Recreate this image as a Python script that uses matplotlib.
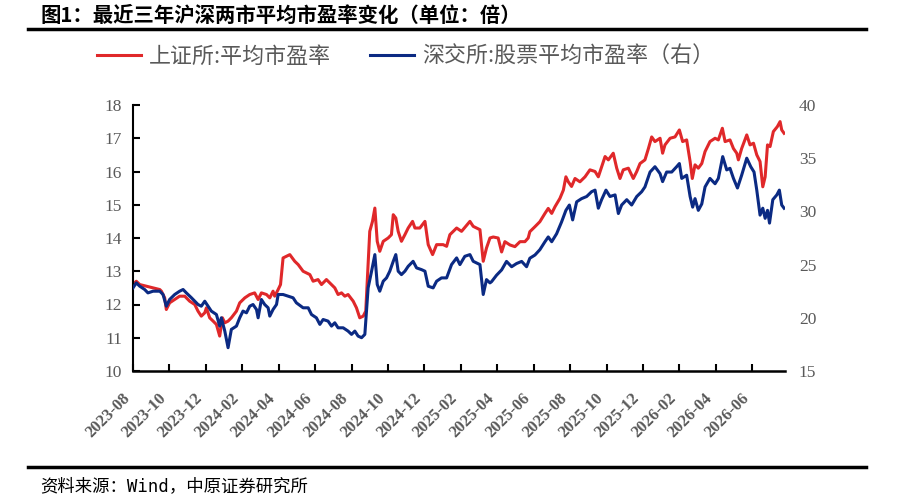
import matplotlib
matplotlib.use("Agg")
import matplotlib.pyplot as plt
from matplotlib.lines import Line2D
import matplotlib.transforms as mtransforms

plt.rcParams['font.family'] = ['Noto Sans CJK SC', 'DejaVu Sans']

# ---- data (x = months since 2023-08) ----
tick_labels = ['2023-08', '2023-10', '2023-12', '2024-02', '2024-04', '2024-06',
               '2024-08', '2024-10', '2024-12', '2025-02', '2025-04', '2025-06',
               '2025-08', '2025-10', '2025-12', '2026-02', '2026-04', '2026-06']
tick_pos = [0, 2, 4, 6, 8, 10, 12, 14, 16, 18, 20, 22, 24, 26, 28, 30, 32, 34]

sh_month = [0.00, 0.18, 0.37, 0.73, 1.10, 1.47, 1.56, 1.74, 1.83, 2.01, 2.29, 2.56,
            2.84, 3.11, 3.39, 3.57, 3.75, 3.94, 4.03, 4.21, 4.40, 4.58, 4.76, 4.91,
            5.04, 5.22, 5.40, 5.68, 5.86, 6.14, 6.41, 6.68, 6.87, 7.05, 7.33, 7.51,
            7.69, 7.78, 7.97, 8.10, 8.24, 8.61, 8.88, 9.07, 9.34, 9.71, 9.89, 10.16,
            10.35, 10.62, 10.90, 11.08, 11.26, 11.45, 11.63, 11.81, 12.09, 12.27, 12.45,
            12.64, 12.78, 13.00, 13.15, 13.28, 13.41, 13.55, 13.74, 14.01, 14.19, 14.29,
            14.43, 14.56, 14.74, 14.93, 15.11, 15.35, 15.48, 15.75, 16.03, 16.21, 16.45,
            16.67, 17.03, 17.22, 17.40, 17.77, 18.04, 18.50, 18.68, 19.05, 19.23, 19.41,
            19.60, 19.78, 20.05, 20.24, 20.42, 20.70, 20.97, 21.25, 21.52, 21.70, 21.79,
            22.07, 22.34, 22.62, 22.80, 22.99, 23.17, 23.44, 23.63, 23.77, 23.90, 24.08,
            24.27, 24.54, 24.82, 25.09, 25.37, 25.55, 25.73, 25.92, 26.10, 26.37, 26.56,
            26.74, 26.92, 27.20, 27.47, 27.66, 27.84, 28.11, 28.30, 28.48, 28.66, 28.94,
            29.08, 29.21, 29.49, 29.76, 30.00, 30.18, 30.40, 30.59, 30.71, 30.86, 31.04,
            31.23, 31.41, 31.68, 31.96, 32.14, 32.36, 32.51, 32.78, 32.97, 33.15, 33.24,
            33.42, 33.70, 33.88, 34.07, 34.25, 34.43, 34.58, 34.71, 34.84, 34.98, 35.16,
            35.38, 35.53, 35.62, 35.75]
sh_pe = [12.6, 12.7, 12.6, 12.55, 12.5, 12.45, 12.4, 12.2, 11.85, 12.05, 12.15, 12.25,
         12.25, 12.1, 12.0, 11.8, 11.65, 11.75, 11.9, 11.6, 11.5, 11.4, 11.05, 11.6,
         11.45, 11.5, 11.6, 11.8, 12.05, 12.2, 12.3, 12.35, 12.15, 12.35, 12.3, 12.2,
         12.4, 12.25, 12.45, 12.6, 13.4, 13.5, 13.3, 13.2, 13.0, 12.9, 12.7, 12.75,
         12.6, 12.75, 12.6, 12.5, 12.3, 12.35, 12.25, 12.3, 12.1, 11.9, 11.6,
         11.65, 11.8, 14.2, 14.5, 14.9, 13.9, 13.6, 13.9, 14.0, 14.1, 14.7,
         14.6, 14.2, 13.9, 14.1, 14.3, 14.5, 14.3, 14.3, 14.5, 13.8, 13.5,
         13.8, 13.8, 13.75, 14.1, 14.3, 14.2, 14.5, 14.35, 14.25, 13.3, 13.7,
         14.0, 14.03, 14.0, 13.58, 13.89, 13.79, 13.74, 13.89, 13.89, 14.0, 14.19,
         14.34, 14.49, 14.74, 14.89, 14.74, 14.94, 15.19, 15.44, 15.84, 15.69, 15.55,
         15.79, 15.69, 15.84, 16.05, 16.0, 15.84, 16.14, 16.45, 16.35, 16.55, 16.1,
         15.79, 16.05, 16.1, 15.79, 16.0, 16.24, 16.35, 16.69, 17.04, 16.9, 17.0,
         16.55, 16.8, 17.0, 17.04, 17.25, 16.9, 16.95, 16.3, 15.79, 16.2, 16.1,
         16.24, 16.6, 16.9, 17.0, 16.95, 17.3, 16.9, 16.95, 16.69, 16.55, 16.35,
         16.69, 17.1, 16.8, 16.85, 16.5, 16.3, 15.54, 15.84, 16.8, 16.75, 17.2,
         17.35, 17.5, 17.25, 17.15]

sz_month = [0.00, 0.18, 0.37, 0.64, 0.82, 1.10, 1.47, 1.65, 1.83, 2.01, 2.29, 2.56,
            2.75, 2.93, 3.21, 3.39, 3.57, 3.75, 3.94, 4.12, 4.30, 4.58, 4.76, 4.85,
            5.04, 5.22, 5.40, 5.68, 5.86, 6.04, 6.23, 6.41, 6.59, 6.78, 6.87, 7.05,
            7.23, 7.42, 7.51, 7.69, 7.88, 7.97, 8.24, 8.52, 8.79, 8.97, 9.34, 9.62,
            9.80, 10.07, 10.26, 10.44, 10.71, 10.90, 11.08, 11.26, 11.54, 11.81, 12.00,
            12.18, 12.36, 12.55, 12.73, 12.91, 13.10, 13.28, 13.41, 13.55, 13.74, 13.92,
            14.10, 14.29, 14.43, 14.56, 14.74, 14.93, 15.11, 15.38, 15.57, 15.84, 16.03,
            16.21, 16.48, 16.67, 16.94, 17.22, 17.49, 17.77, 17.95, 18.22, 18.50, 18.68,
            19.05, 19.23, 19.41, 19.60, 19.69, 19.96, 20.24, 20.51, 20.79, 21.06, 21.34,
            21.61, 21.79, 22.07, 22.34, 22.62, 22.80, 22.99, 23.26, 23.53, 23.77, 23.96,
            24.14, 24.36, 24.63, 24.91, 25.18, 25.37, 25.55, 25.73, 25.97, 26.19, 26.47,
            26.65, 26.83, 27.11, 27.38, 27.66, 27.93, 28.11, 28.39, 28.66, 28.94, 29.08,
            29.30, 29.58, 29.85, 30.00, 30.13, 30.40, 30.59, 30.73, 30.86, 31.04, 31.23,
            31.41, 31.68, 31.96, 32.14, 32.38, 32.60, 32.78, 32.97, 33.19, 33.42, 33.70,
            33.92, 34.10, 34.25, 34.43, 34.58, 34.71, 34.84, 34.95, 35.13, 35.35, 35.49,
            35.62, 35.75]
sz_pe = [22.81, 23.28, 22.97, 22.66, 22.34, 22.5, 22.5, 22.19, 21.09, 21.72, 22.19, 22.5,
         22.66, 22.34, 21.88, 21.56, 21.25, 21.09, 21.56, 21.09, 20.63, 20.31, 19.22, 20.0,
         18.75, 17.19, 18.91, 19.22, 20.0, 20.63, 20.47, 21.09, 21.25, 20.78, 20.0, 21.72,
         21.25, 20.94, 20.16, 20.78, 21.25, 22.19, 22.19, 22.03, 21.88, 21.41, 20.94, 20.94,
         20.31, 20.0, 19.38, 19.84, 19.69, 19.22, 19.53, 19.06, 19.06, 18.75, 18.44,
         18.75, 18.28, 18.13, 18.44, 22.81, 24.38, 25.94, 23.13, 22.5, 23.44, 23.75,
         24.38, 25.31, 25.94, 24.38, 24.06, 24.38, 24.84, 25.31, 24.69, 24.53, 24.38,
         22.97, 22.81, 23.44, 23.75, 23.75, 25.0, 25.63, 25.0, 25.78, 25.94, 25.31,
         25.0, 22.19, 23.59, 23.28, 23.4, 24.0, 24.5, 25.3, 24.8, 25.1, 25.3,
         24.8, 25.6, 25.9, 26.4, 27.15, 27.6, 27.15, 27.9, 29.0, 30.1, 30.6,
         29.2, 30.9, 31.2, 31.4, 31.85, 32.0, 30.3, 31.1, 32.0, 31.4, 31.55,
         29.8, 30.6, 31.1, 30.6, 31.4, 31.85, 32.3, 33.7, 34.2, 33.55, 32.8,
         33.7, 33.7, 34.2, 34.5, 33.1, 33.4, 31.4, 30.4, 31.2, 30.1, 30.7,
         32.3, 33.1, 32.6, 33.1, 35.15, 33.9, 34.05, 33.1, 32.2, 33.4, 35.0,
         34.2, 33.7, 32.0, 29.65, 30.3, 29.35, 30.1, 28.9, 31.1, 31.55, 32.0,
         30.6, 30.3]

left_ticks = [10, 11, 12, 13, 14, 15, 16, 17, 18]
right_ticks = [15, 20, 25, 30, 35, 40]

title_text = '图1：最近三年沪深两市平均市盈率变化（单位：倍）'
sh_label = '上证所:平均市盈率'
sz_label = '深交所:股票平均市盈率（右）'
source_text = '资料来源：Wind，中原证券研究所'

RED = '#E0282A'
BLUE = '#0B2A83'
GRAY = '#595959'

fig = plt.figure(figsize=(9.03, 4.99), dpi=100)
ax = fig.add_axes([133/903, 1-371/499, (785-133)/903, (371-105)/499])
ax2 = ax.twinx()

l1, = ax.plot(sh_month, sh_pe, color=RED, lw=2.2, solid_joinstyle='round')
l2, = ax2.plot(sz_month, sz_pe, color=BLUE, lw=2.2, solid_joinstyle='round')

ax.set_xlim(0, 35.8)
ax.set_ylim(10, 18)
ax2.set_ylim(15, 40)
ax.set_yticks(left_ticks)
ax2.set_yticks(right_ticks)
ax.set_xticks(tick_pos)

serif = 'Liberation Serif'
ax.set_xticklabels(tick_labels, rotation=45, ha='right', fontfamily=serif,
                   fontweight='bold', fontsize=12, color=GRAY)
ax.set_yticklabels([str(t) for t in left_ticks], fontfamily=serif, fontsize=12.5, color=GRAY)
ax2.set_yticklabels([str(t) for t in right_ticks], fontfamily=serif, fontsize=12.5, color=GRAY)

offset = mtransforms.ScaledTranslation(4/72, 0, fig.dpi_scale_trans)
for lab in ax.get_xticklabels():
    lab.set_transform(lab.get_transform() + offset)

for s in ['top', 'right']:
    ax.spines[s].set_visible(False)
for s in ax2.spines.values():
    s.set_visible(False)
ax.spines['left'].set_linewidth(1.5)
ax.spines['bottom'].set_linewidth(1.8)
ax.tick_params(axis='y', direction='in', length=5, width=1.5, pad=8, colors='black', labelcolor=GRAY)
ax.tick_params(axis='x', direction='in', length=5, width=1.5, pad=14, colors='black', labelcolor=GRAY)
ax2.tick_params(axis='y', length=0, pad=10, labelcolor=GRAY)

# title, rules, legend, source
fig.text(40/903, 1-15/499, title_text, fontsize=14.7, fontweight='bold', ha='left', va='center', color='black')
fig.add_artist(Line2D([28/903, 866/903], [1-29/499, 1-29/499], color='black', lw=2.5))
fig.add_artist(Line2D([28/903, 866/903], [1-467/499, 1-467/499], color='black', lw=2.5))
fig.text(40/903, 1-486/499, source_text, fontsize=12.5, ha='left', va='center', color='black',
         family=['DejaVu Sans Mono', 'Noto Sans CJK SC'])

leg = fig.legend([l1, l2], [sh_label, sz_label], loc='center left',
                 bbox_to_anchor=(97/903, 1-57/499), ncol=2, frameon=False,
                 fontsize=15.8, handlelength=2.0, handletextpad=0.35, columnspacing=1.8,
                 borderaxespad=0, borderpad=0)
for t in leg.get_texts():
    t.set_color(GRAY)

fig.savefig('out.png', dpi=100)
